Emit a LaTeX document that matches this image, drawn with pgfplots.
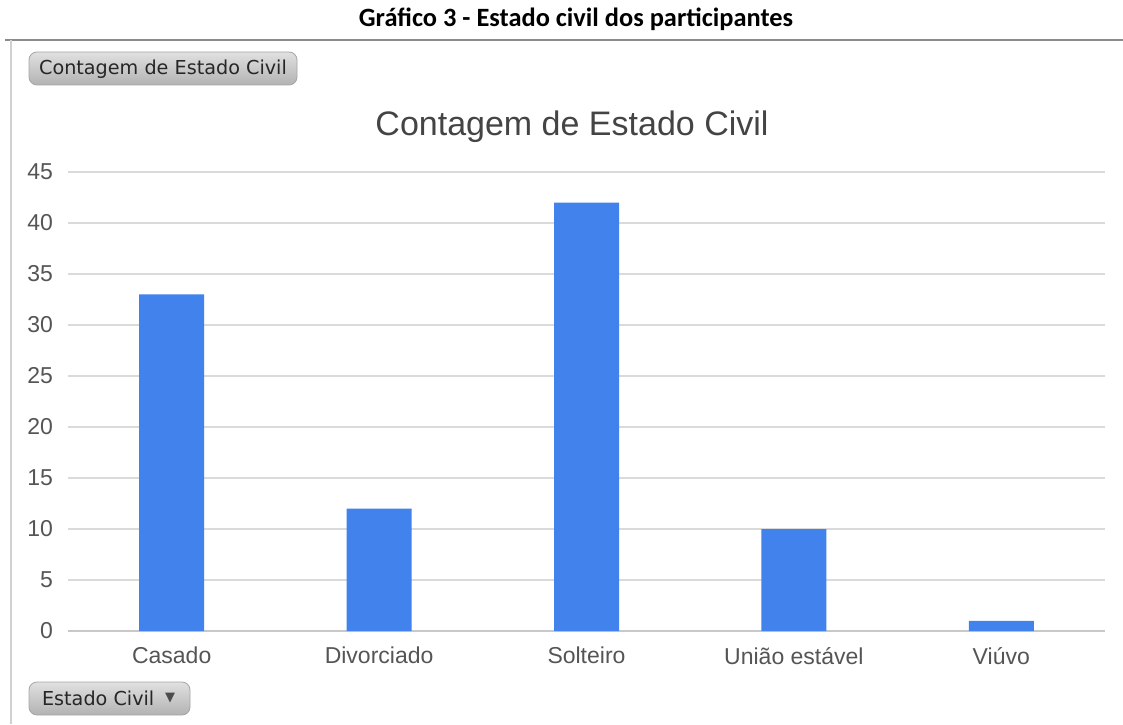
\documentclass[border=0pt]{standalone}
\usepackage{fontspec}
\setmainfont{Liberation Sans}
\newfontfamily\carlito{Carlito}
\newfontfamily\dejavu{DejaVu Sans}
\usepackage{pgfplots}
\pgfplotsset{compat=1.18}
\definecolor{barblue}{RGB}{66,130,236}
\definecolor{gridgray}{RGB}{218,218,218}
\definecolor{zerogray}{RGB}{200,200,200}
\definecolor{labgray}{RGB}{85,85,85}
\definecolor{titlegray}{RGB}{68,68,68}
\begin{document}
\begin{tikzpicture}
\useasboundingbox (0pt,0pt) rectangle (561.5pt,362pt);
\fill[white] (0pt,0pt) rectangle (561.5pt,362pt);
\node[anchor=base, font=\carlito\bfseries\fontsize{13.2}{15}\selectfont] at (288pt,348.5pt) {Gráfico 3 - Estado civil dos participantes};
\draw[color=black!45, line width=1pt] (2.5pt,342pt) -- (561.5pt,342pt);
\draw[color=black!18, line width=1pt] (5.5pt,0pt) -- (5.5pt,342pt);
% buttons
\shade[top color=black!12, bottom color=black!30, draw=black!35, rounded corners=4pt] (14.5pt,319.5pt) rectangle (148.5pt,336pt);
\node[font=\dejavu\fontsize{9.6}{11}\selectfont, text=black!85] at (81.5pt,327.5pt) {Contagem de Estado Civil};
\shade[top color=black!12, bottom color=black!30, draw=black!35, rounded corners=4pt] (14.5pt,4.5pt) rectangle (95pt,21pt);
\node[font=\dejavu\fontsize{9.6}{11}\selectfont, text=black!85, anchor=west] at (17.5pt,12.75pt) {Estado Civil};
\node[font=\dejavu\fontsize{6.5}{8}\selectfont, text=black!70] at (85pt,12.75pt) {▼};
% chart title
\node[anchor=base, font=\fontsize{17}{20}\selectfont, text=titlegray] at (286pt,294pt) {Contagem de Estado Civil};
\begin{axis}[
  at={(34pt,46.5pt)}, anchor=south west,
  width=518.5pt, height=229.5pt, scale only axis,
  xmin=-0.5, xmax=4.5, ymin=0, ymax=45,
  ytick={0,5,...,45},
  xtick={0,1,2,3,4},
  xticklabels={Casado,Divorciado,Solteiro,União estável,Viúvo},
  ymajorgrids,
  grid style={color=gridgray, line width=1pt},
  axis line style={draw=none},
  major tick length=0pt,
  tick style={draw=none},
  /pgf/number format/assume math mode=true,
  ticklabel style={font=\fontsize{11.5}{13}\selectfont, text=labgray},
  yticklabel style={xshift=-4pt},
  xticklabel style={yshift=-4.5pt},
  clip=false,
]
\draw[color=zerogray, line width=1pt] (axis cs:-0.5,0) -- (axis cs:4.5,0);
\addplot[ybar, bar width=32.5pt, fill=barblue, draw=none] coordinates {(0,33) (1,12) (2,42) (3,10) (4,1)};
\end{axis}
\end{tikzpicture}
\end{document}
